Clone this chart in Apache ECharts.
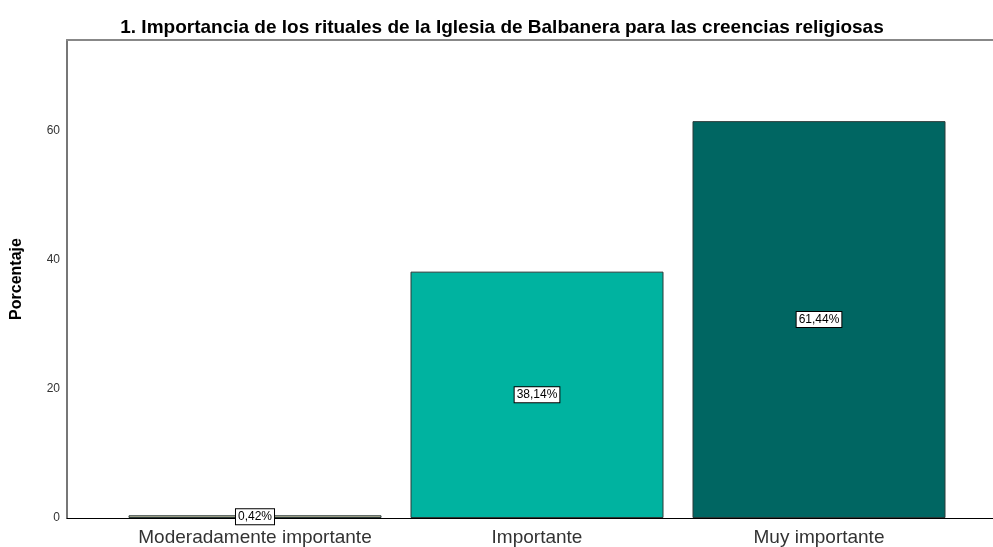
<!DOCTYPE html>
<html>
<head>
    <meta charset="utf-8">
    <title>ECharts</title>
    <script src="https://cdn.jsdelivr.net/npm/echarts@6/dist/echarts.min.js"></script>
</head>
<body style="margin:0;">
    <div id="main" style="width: 993px;height:547px;"></div>
    <script>
        var categories = ['Moderadamente importante', 'Importante', 'Muy importante'];
        var values = [0.42, 38.14, 61.44];
        var barColors = ['#c9c3a5', '#00b3a0', '#006662'];
        var yTicks = [0, 20, 40, 60];

        var myChart = echarts.init(document.getElementById('main'));

        var option = {
            backgroundColor: '#ffffff',
            title: {
                text: '1. Importancia de los rituales de la Iglesia de Balbanera para las creencias religiosas',
                left: 497,
                textAlign: 'center',
                top: 13,
                textStyle: {
                    fontFamily: 'Liberation Sans',
                    fontSize: 19,
                    fontWeight: 'bold',
                    color: '#000'
                }
            },
            grid: [
                // marco del grafico
                { left: 67, right: 0, top: 40, bottom: 29 },
                // zona de las barras
                { left: 114, right: 33, top: 40, bottom: 29 }
            ],
            xAxis: [{
                gridIndex: 0,
                type: 'value',
                min: 0,
                max: 1,
                axisLine: { show: true, lineStyle: { color: '#000', width: 1 } },
                axisTick: { show: false },
                axisLabel: { show: false },
                splitLine: { show: false }
            }, {
                gridIndex: 0,
                type: 'value',
                position: 'top',
                min: 0,
                max: 1,
                axisLine: { show: true, lineStyle: { color: '#888', width: 2 } },
                axisTick: { show: false },
                axisLabel: { show: false },
                splitLine: { show: false }
            }, {
                gridIndex: 1,
                type: 'category',
                data: categories,
                axisLine: { show: false },
                axisTick: { show: false },
                axisLabel: {
                    interval: 0,
                    fontFamily: 'Liberation Sans',
                    fontSize: 19,
                    color: '#333',
                    margin: 10
                }
            }],
            yAxis: [{
                gridIndex: 0,
                type: 'value',
                min: 0,
                max: 74,
                interval: 20,
                name: 'Porcentaje',
                nameLocation: 'middle',
                nameGap: 42,
                nameTextStyle: {
                    fontFamily: 'Liberation Sans',
                    fontSize: 16,
                    fontWeight: 'bold',
                    color: '#000'
                },
                axisLine: { show: true, lineStyle: { color: '#777', width: 2 } },
                axisTick: { show: false },
                axisLabel: {
                    showMaxLabel: false,
                    fontFamily: 'Liberation Sans',
                    fontSize: 12,
                    color: '#333',
                    margin: 7,
                    formatter: function (v) {
                        return yTicks.indexOf(v) >= 0 ? v : '';
                    }
                },
                splitLine: { show: false }
            }, {
                gridIndex: 1,
                type: 'value',
                min: 0,
                max: 74,
                show: false
            }],
            series: [{
                type: 'bar',
                xAxisIndex: 2,
                yAxisIndex: 1,
                barWidth: 253,
                data: values.map(function (v, i) {
                    return {
                        value: v,
                        itemStyle: { color: barColors[i] }
                    };
                }),
                itemStyle: {
                    borderColor: '#2a3a38',
                    borderWidth: 1
                },
                label: {
                    show: true,
                    position: 'inside',
                    fontFamily: 'Liberation Sans',
                    fontSize: 12,
                    color: '#000',
                    backgroundColor: '#fff',
                    borderColor: '#000',
                    borderWidth: 1,
                    padding: [2, 2, 1, 2],
                    formatter: function (p) {
                        return p.value.toFixed(2).replace('.', ',') + '%';
                    }
                }
            }]
        };
        myChart.setOption(option);
    </script>
</body>
</html>
